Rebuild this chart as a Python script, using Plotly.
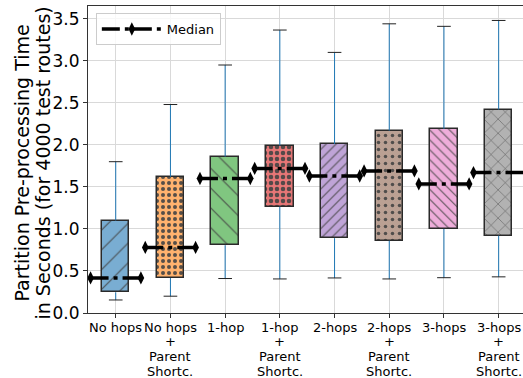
import plotly.graph_objects as go

categories = ["No hops", "No hops\n+\nParent\nShortc.", "1-hop", "1-hop\n+\nParent\nShortc.",
              "2-hops", "2-hops\n+\nParent\nShortc.", "3-hops", "3-hops\n+\nParent\nShortc."]
whisker_low = [0.155, 0.20, 0.41, 0.405, 0.417, 0.405, 0.42, 0.43]
q1 = [0.246, 0.417, 0.806, 1.265, 0.89, 0.86, 1.00, 0.92]
median = [0.417, 0.78, 1.60, 1.72, 1.63, 1.69, 1.535, 1.67]
q3 = [1.10, 1.62, 1.86, 1.99, 2.01, 2.17, 2.19, 2.42]
whisker_high = [1.80, 2.48, 2.95, 3.366, 3.10, 3.44, 3.41, 3.48]
y_ticks = [0, 0.5, 1, 1.5, 2, 2.5, 3, 3.5]
y_ticktext = ["0.0", "0.5", "1.0", "1.5", "2.0", "2.5", "3.0", "3.5"]
y_title_lines = ["Partition Pre-processing Time", "in Seconds (for 4000 test routes)"]

colors = ["#79add2", "#ffb26e", "#80c680", "#e67676", "#bfa4d7", "#baa093", "#eeadda", "#b2b2b2"]
hatches = ["/", ".", "\\", ".", "/", ".", "\\", "x"]
hatch_sizes = [14, 6, 14, 6, 7, 7, 7, 10]
hatch_solidity = [0.08, 0.35, 0.08, 0.45, 0.15, 0.2, 0.15, 0.1]

FONT = "DejaVu Sans"
xs = list(range(len(categories)))
fig = go.Figure()

# whiskers
wx, wy = [], []
for i in xs:
    wx += [i, i, None, i, i, None]
    wy += [whisker_low[i], q1[i], None, q3[i], whisker_high[i], None]
fig.add_trace(go.Scatter(x=wx, y=wy, mode="lines", line=dict(color="#1f77b4", width=1),
                         showlegend=False, hoverinfo="skip"))
# caps
cx, cy = [], []
for i in xs:
    cx += [i - 0.125, i + 0.125, None, i - 0.125, i + 0.125, None]
    cy += [whisker_low[i], whisker_low[i], None, whisker_high[i], whisker_high[i], None]
fig.add_trace(go.Scatter(x=cx, y=cy, mode="lines", line=dict(color="#222222", width=1),
                         showlegend=False, hoverinfo="skip"))

# boxes
fig.add_trace(go.Bar(
    x=xs, y=[q3[i] - q1[i] for i in xs], base=q1, width=0.5,
    marker=dict(color=colors, line=dict(color="#2a2a2a", width=1.5),
                pattern=dict(shape=hatches, size=hatch_sizes, solidity=hatch_solidity,
                             fgcolor="#222222", fgopacity=0.9)),
    showlegend=False, hoverinfo="skip"))

# medians
mx, my = [], []
for i in xs:
    mx += [i - 0.46, i + 0.46, None]
    my += [median[i], median[i], None]
fig.add_trace(go.Scatter(x=mx, y=my, mode="lines+markers", name="Median",
                         line=dict(color="black", width=3.5, dash="18px,5px,4px,5px"),
                         marker=dict(symbol="diamond-tall", size=9.5, color="black"),
                         cliponaxis=False))

# multi-line category labels (tight line spacing like the reference)
for i, lab in enumerate(categories):
    for j, line in enumerate(lab.split("\n")):
        fig.add_annotation(x=i, xref="x", y=0, yref="paper", yanchor="middle",
                           yshift=-(14 + 14.7 * j), text=line, showarrow=False,
                           font=dict(family=FONT, size=13, color="black"))

# two-line y-axis title
for j, line in enumerate(y_title_lines):
    fig.add_annotation(x=0, xref="paper", y=0.5, yref="paper", xanchor="center", yanchor="middle",
                       xshift=-(88 - 21.5 - 21 * j), yshift=-3.5, textangle=-90,
                       text=line, showarrow=False, font=dict(family=FONT, size=19, color="black"))

fig.update_layout(
    width=523, height=378,
    margin=dict(l=88, r=0, t=6, b=65),
    plot_bgcolor="white", paper_bgcolor="white",
    font=dict(family=FONT, color="black"),
    bargap=0,
    legend=dict(x=0.018, y=0.977, xanchor="left", yanchor="top",
                bgcolor="rgba(255,255,255,0.8)", bordercolor="#cccccc", borderwidth=1,
                font=dict(family=FONT, size=13), itemwidth=60),
    showlegend=True,
)
fig.update_xaxes(range=[-0.507, 7.445], tickvals=xs, ticktext=[""] * len(xs),
                 automargin=False,
                 showgrid=True, gridcolor="#d9d9d9", gridwidth=1.2,
                 showline=True, linecolor="#333333", linewidth=1.2, mirror=True,
                 ticks="outside", ticklen=4, tickcolor="#333333", zeroline=False)
fig.update_yaxes(range=[0, 3.652], tickvals=y_ticks, ticktext=y_ticktext,
                 automargin=False,
                 tickfont=dict(family=FONT, size=17), showgrid=True, gridcolor="#d9d9d9", gridwidth=1.2,
                 showline=True, linecolor="#333333", linewidth=1.2, mirror=True,
                 ticks="outside", ticklen=4, tickcolor="#333333", zeroline=False)

fig.write_html("out.html", config={"displayModeBar": False},
               post_script="document.body.style.margin='0px';")
